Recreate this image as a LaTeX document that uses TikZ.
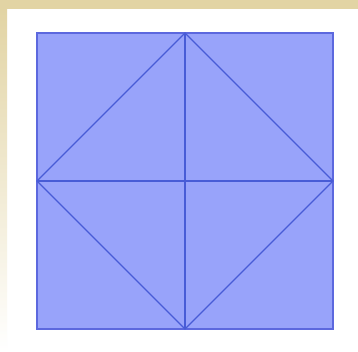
\documentclass[tikz,border=0pt]{standalone}
\usepackage{tikz}
\usetikzlibrary{positioning, calc}
\definecolor{sand}{RGB}{226, 212, 164}
\definecolor{sqfill}{RGB}{152, 163, 250}
\definecolor{sqedge}{RGB}{92, 104, 222}
\definecolor{sqline}{RGB}{72, 92, 214}

\begin{document}
\begin{tikzpicture}[x=1pt, y=-1pt,
		frame/.style={draw=sqedge, fill=sqfill, line width=1.2pt},
		seg/.style={draw=sqline, line width=1.1pt}
		]
		% Fond
		\useasboundingbox (0,0) rectangle (358,351);
		\fill[white] (0,0) rectangle (358,351);
		\fill[sand] (0,0) rectangle (358,9);
		\shade[top color=sand, bottom color=white] (0,9) rectangle (7,351);
		
		% Carre
		\coordinate (nw) at (37, 33);
		\coordinate (se) at (333, 329);
		\coordinate (ne) at (se |- nw);
		\coordinate (sw) at (nw |- se);
		\draw[frame] (nw) rectangle (se);
		
		% Milieux des cotes
		\coordinate (top)    at ($(nw)!0.5!(ne)$);
		\coordinate (bottom) at ($(sw)!0.5!(se)$);
		\coordinate (left)   at ($(nw)!0.5!(sw)$);
		\coordinate (right)  at ($(ne)!0.5!(se)$);
		
		% Medianes et losange
		\draw[seg] (top) -- (bottom);
		\draw[seg] (left) -- (right);
		\draw[seg] (top) -- (right) -- (bottom) -- (left) -- cycle;
	\end{tikzpicture}
\end{document}
